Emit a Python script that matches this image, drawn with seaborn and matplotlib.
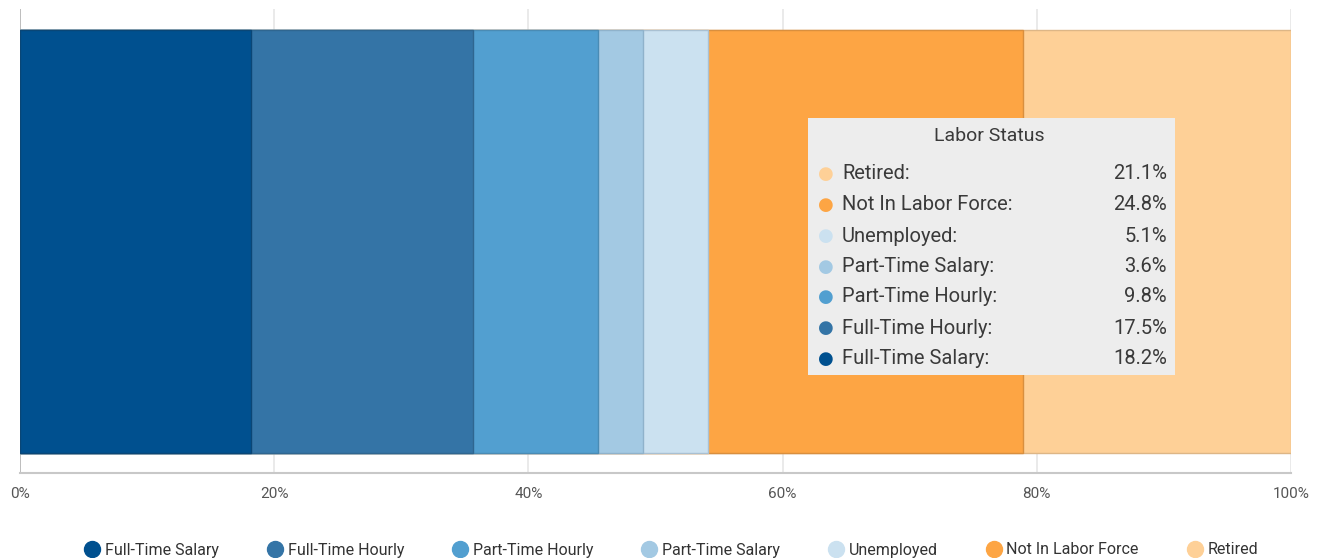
import matplotlib
matplotlib.use("Agg")
import matplotlib.pyplot as plt
import seaborn as sns
import numpy as np
import pandas as pd
from matplotlib.lines import Line2D
from matplotlib.patches import Rectangle

categories = ["Full-Time Salary", "Full-Time Hourly", "Part-Time Hourly",
              "Part-Time Salary", "Unemployed", "Not In Labor Force", "Retired"]
values = [18.2, 17.5, 9.8, 3.6, 5.1, 24.8, 21.1]
colors = ["#00508F", "#3474A6", "#529FD0", "#A3C9E3", "#CBE1F0", "#FDA544", "#FED097"]
edge_colors = ["#0A4676", "#2F6690", "#4A8BB4", "#8FB2CB", "#A9C0D2", "#D98F3E", "#DDB686"]
tick_values = [0, 20, 40, 60, 80, 100]
tick_labels = ["0%", "20%", "40%", "60%", "80%", "100%"]
tooltip_title = "Labor Status"

sns.set_style("white")
plt.rcParams["font.family"] = ["Roboto", "DejaVu Sans"]

total = sum(values)
cum = np.cumsum(values) / total * 100
df = pd.DataFrame({"status": categories, "cum": cum, "row": [""] * len(categories)})

fig = plt.figure(figsize=(13.25, 5.58), dpi=100)
ax = fig.add_axes([20 / 1325, 1 - 473 / 558, (1291 - 20) / 1325, (473 - 9) / 558])

order_rev = categories[::-1]
pal = dict(zip(categories, colors))
sns.barplot(data=df, x="cum", y="row", hue="status", hue_order=order_rev,
            palette=pal, dodge=False, orient="h", width=423 / 464,
            legend=False, ax=ax, saturation=1, linewidth=0)
for patch, cat in zip(ax.patches, order_rev):
    patch.set_edgecolor(edge_colors[categories.index(cat)])
    patch.set_linewidth(1.0)
    patch.set_zorder(2)

ax.set_xlim(0, 100)
ax.set_ylim(0.5, -0.5)
ax.set_xticks(tick_values)
ax.set_xticklabels(tick_labels)
ax.set_xlabel("")
ax.set_ylabel("")
ax.set_yticks([])
ax.grid(axis="x", color="#e6e6e6", linewidth=1.2, zorder=0)
ax.set_axisbelow(True)
for s in ["top", "right", "left"]:
    ax.spines[s].set_visible(False)
ax.spines["bottom"].set_color("#c8c8c8")
ax.spines["bottom"].set_linewidth(1.5)
ax.tick_params(axis="x", length=6, width=1.2, color="#d6d6d6", labelsize=11,
               labelcolor="#555555", pad=4)
ax.axvline(0, color="#bdbdbd", linewidth=1.4, zorder=1)

# bottom legend
handles = [Line2D([0], [0], marker="o", linestyle="", markersize=11.5,
                  markerfacecolor=c, markeredgecolor=c) for c in colors]
fig.legend(handles, categories, loc="center", bbox_to_anchor=(670 / 1325, 1 - 550 / 558),
           ncol=7, frameon=False, fontsize=11.5, labelcolor="#333333",
           handletextpad=0.15, columnspacing=2.85, handlelength=1.3)

# tooltip box
x0, y0, x1, y1 = 808, 118, 1175, 375
fig.patches.append(Rectangle((x0 / 1325, 1 - y1 / 558), (x1 - x0) / 1325, (y1 - y0) / 558,
                             transform=fig.transFigure, facecolor="#EDEDED",
                             edgecolor="none", alpha=1.0, zorder=5))
fig.text(989 / 1325, 1 - 136 / 558, tooltip_title, ha="center", va="center",
         fontsize=14, color="#3a3a3a", zorder=6)
rows_y = [174, 205, 236, 267, 297, 328, 359]
for yy, cat in zip(rows_y, order_rev):
    i = categories.index(cat)
    fig.text(826 / 1325, 1 - yy / 558, "\u25CF", ha="center", va="center",
             fontsize=13, color=colors[i], zorder=6, family="DejaVu Sans")
    fig.text(842 / 1325, 1 - yy / 558, cat + ":", ha="left", va="center",
             fontsize=14.5, color="#3a3a3a", zorder=6)
    fig.text(1167 / 1325, 1 - yy / 558, f"{values[i]:.1f}%", ha="right", va="center",
             fontsize=14.5, color="#3a3a3a", zorder=6)

fig.savefig("out.png", dpi=100)
